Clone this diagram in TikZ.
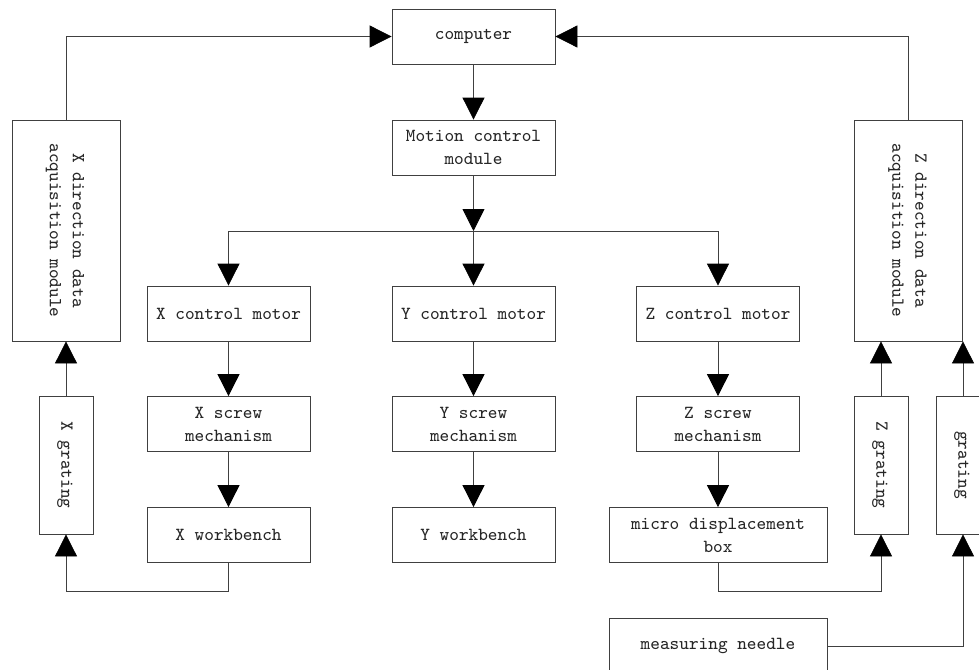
\documentclass[tikz,border=0pt]{standalone}
\usepackage{tikz}
\usetikzlibrary{
	arrows.meta,
	calc,
	positioning,
}
\tikzset{box/.style={draw=black!75,rectangle,inner sep=0mm,minimum width=81.5pt,minimum height=27.5pt,align=center,text=black!85,font=\ttfamily\fontsize{9.2}{11.5}\selectfont,}}
\tikzset{wide box/.style={box,minimum width=109pt,}}
\tikzset{daq box/.style={box,minimum width=54pt,minimum height=110.5pt,}}
\tikzset{grating box/.style={box,minimum width=27pt,minimum height=69pt,}}
\tikzset{
	>={Triangle[length=11pt,width=11pt,color=black]},
	line width=0.6pt,
}
\newcommand{\vtext}[1]{\rotatebox{-90}{\begin{tabular}{@{}c@{}}#1\end{tabular}}}

\begin{document}
\begin{tikzpicture}[x=0.5pt,y=-0.5pt]
\useasboundingbox (0,0) rectangle (979,669);

% centre column
\node[box](comp) at(473.5,36.5){computer};
\node[box](motion) at(473.5,147.5){Motion control\\module};
\coordinate(br) at(473.5,231);

% motors, screws, tables
\foreach \n/\x in {x/228.5,y/473.5,z/718}{
	\node[box](\n motor) at(\x,313.5){\MakeUppercase{\n} control motor};
	\node[box](\n screw) at(\x,424){\MakeUppercase{\n} screw\\mechanism};
}
\node[box](xbench) at(228.5,535){X workbench};
\node[box](ybench) at(473.5,535){Y workbench};
\node[wide box](micro) at(718,535){micro displacement\\box};
\node[wide box,minimum height=28pt](needle) at(718,646){measuring needle};

% acquisition side
\node[daq box](xdaq) at(66,230.5){\vtext{X direction data\\acquisition module}};
\node[grating box](xgrat) at(66,465){\vtext{X grating}};
\node[daq box](zdaq) at(908.5,230.5){\vtext{Z direction data\\acquisition module}};
\node[grating box](zgrat) at(881,465){\vtext{Z grating}};
\node[grating box](grat) at(963,465){\vtext{grating}};

\begin{scope}[draw=black!75]
\draw[->] (comp) -- (motion);
\draw[->] (motion) -- (br);
\draw[->] (br) -- (ymotor);
\draw[->] (br) -| (xmotor);
\draw[->] (br) -| (zmotor);

\foreach \n in {x,y,z}{
	\draw[->] (\n motor) -- (\n screw);
}
\draw[->] (xscrew) -- (xbench);
\draw[->] (yscrew) -- (ybench);
\draw[->] (zscrew) -- (micro);

\draw[->] (xbench.south) -- ++(0,28) -| (xgrat.south);
\draw[->] (micro.south) -- ++(0,28) -| (zgrat.south);
\draw[->] (needle.east) -| (grat.south);

\draw[->] (xgrat) -- (xdaq);
\draw[->] (zgrat.north) -- (zgrat.north |- zdaq.south);
\draw[->] (grat.north) -- (grat.north |- zdaq.south);

\draw[->] (xdaq.north) |- (comp.west);
\draw[->] (zdaq.north) |- (comp.east);
\end{scope}

\end{tikzpicture}
\end{document}
